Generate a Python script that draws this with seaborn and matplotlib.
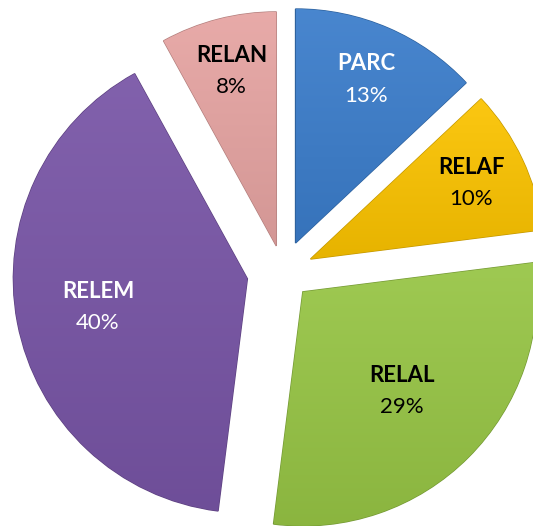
import numpy as np
import seaborn as sns
import matplotlib.pyplot as plt
from matplotlib.colors import to_rgb

# data
names = ['PARC', 'RELAF', 'RELAL', 'RELEM', 'RELAN']
values = [13, 10, 29, 40, 8]

# look
base_colors = ['#3b7dcb', '#fbc300', '#97c545', '#7855a6', '#e6a4a2']
text_colors = ['white', 'black', 'black', 'white', 'black']
explode = [0.135, 0.13, 0.12, 0.155, 0.115]
label_r = [0.76, 0.76, 0.60, 0.65, 0.77]

sns.set_theme(style='white')
plt.rcParams['font.family'] = ['Lato', 'DejaVu Sans']


def shade(c, f):
    # f > 0 -> towards white, f < 0 -> towards black
    r = np.array(to_rgb(c))
    return tuple(r + (1 - r) * f) if f > 0 else tuple(r * (1 + f))


fig = plt.figure(figsize=(5.33, 5.26), dpi=100)
ax = fig.add_axes([0, 0, 1, 1])

wedges, _ = ax.pie(values, colors=base_colors, explode=explode, startangle=90,
                   counterclock=False, radius=1.0,
                   wedgeprops=dict(linewidth=1.0))

# gradient fill + darker rim for each slice
for w, c in zip(wedges, base_colors):
    w.set_edgecolor(shade(c, -0.22))
    bb = w.get_path().transformed(w.get_patch_transform()).get_extents()
    top, bot = np.array(shade(c, 0.07)), np.array(shade(c, -0.08))
    t = np.linspace(0, 1, 64)[:, None]
    grad = (top * (1 - t) + bot * t)[:, None, :].repeat(2, axis=1)
    im = ax.imshow(grad, extent=[bb.x0, bb.x1, bb.y0, bb.y1], origin='upper',
                   interpolation='bilinear', zorder=w.get_zorder() + 0.1)
    im.set_clip_path(w)

# labels
for w, n, v, tc, lr in zip(wedges, names, values, text_colors, label_r):
    ang = np.deg2rad((w.theta1 + w.theta2) / 2)
    cx, cy = w.center
    x, y = cx + lr * w.r * np.cos(ang), cy + lr * w.r * np.sin(ang)
    ax.annotate(n, (x, y), xytext=(0, 11.5), textcoords='offset points',
                ha='center', va='center', fontsize=16, fontweight='bold',
                color=tc, zorder=10)
    ax.annotate(f'{v}%', (x, y), xytext=(0, -11.5), textcoords='offset points',
                ha='center', va='center', fontsize=16, color=tc, zorder=10)

ax.set_xlim(-283 / 234, (533 - 283) / 234)
ax.set_ylim(-(526 - 272) / 234, 272 / 234)
ax.set_aspect('auto')
ax.axis('off')

fig.savefig('out.png', dpi=100, facecolor='white')
